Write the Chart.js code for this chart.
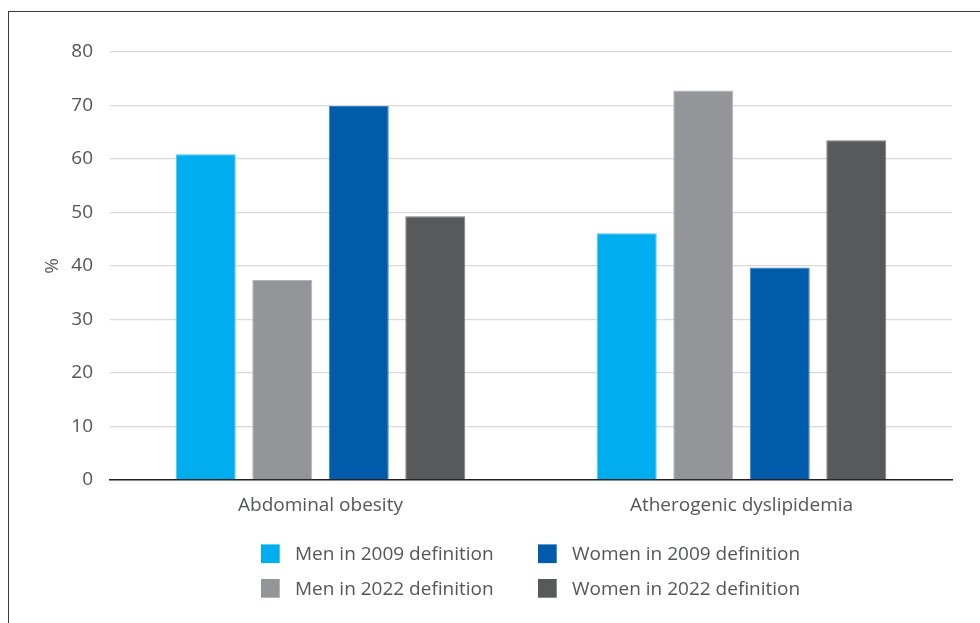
<!DOCTYPE html>
<html>
<head>
<meta charset="utf-8">
<script src="https://cdn.jsdelivr.net/npm/chart.js@4"></script>
<style>
  html, body { margin: 0; padding: 0; background: #fff; }
  #wrap { position: relative; width: 980px; height: 623px; overflow: hidden; }
  #frame { position: absolute; left: 7.5px; top: 10.5px; width: 1100px; height: 800px;
           border-left: 1.4px solid #3a3a3a; border-top: 1.4px solid #3a3a3a; }
  canvas { position: absolute; left: 0; top: 0; }
</style>
</head>
<body>
<div id="wrap">
  <div id="frame"></div>
  <canvas id="chart" width="980" height="623"></canvas>
</div>
<script>
// Prevalence (%) by condition, sex and definition year
const categories = ['Abdominal obesity', 'Atherogenic dyslipidemia'];
const men2009 = [60.9, 46.1];
const men2022 = [37.4, 72.8];
const women2009 = [69.9, 39.7];
const women2022 = [49.3, 63.5];
const seriesLabels = ['Men in 2009 definition', 'Men in 2022 definition',
                      'Women in 2009 definition', 'Women in 2022 definition'];
const yTicks = [0, 10, 20, 30, 40, 50, 60, 70, 80];

const TEXT = '#555658';
const FONT = '"Open Sans", sans-serif';

// Two-by-two legend under the plot: 2009 definitions on the first row, 2022 on the second
const gridLegend = {
  id: 'gridLegend',
  afterDraw(chart) {
    const ctx = chart.ctx;
    const area = chart.chartArea;
    const ds = chart.data.datasets;
    const order = [[0, 2], [1, 3]];
    const colX = [261, 538];
    const rowY = [area.bottom + 73.7, area.bottom + 108.3];
    ctx.save();
    ctx.font = '19px ' + FONT;
    ctx.textBaseline = 'middle';
    ctx.textAlign = 'left';
    order.forEach((row, r) => {
      row.forEach((idx, c) => {
        const x = colX[c], y = rowY[r];
        ctx.fillStyle = ds[idx].backgroundColor;
        ctx.fillRect(x, y - 9.3, 18.7, 18.7);
        ctx.fillStyle = TEXT;
        ctx.fillText(ds[idx].label, x + 34, y + 0.8);
      });
    });
    ctx.restore();
  }
};

new Chart(document.getElementById('chart'), {
  type: 'bar',
  data: {
    labels: categories,
    datasets: [
      { label: seriesLabels[0], data: men2009, backgroundColor: '#00aeef', borderColor: '#4cc3f2' },
      { label: seriesLabels[1], data: men2022, backgroundColor: '#939598', borderColor: '#b3b4b6' },
      { label: seriesLabels[2], data: women2009, backgroundColor: '#005baa', borderColor: '#3c7fc0' },
      { label: seriesLabels[3], data: women2022, backgroundColor: '#58595b', borderColor: '#7a7b7d' }
    ]
  },
  options: {
    responsive: false,
    animation: false,
    layout: { padding: { left: 0, right: 28, top: 52, bottom: 98 } },
    datasets: { bar: { categoryPercentage: 0.727, barPercentage: 0.784, borderWidth: 1 } },
    plugins: { legend: { display: false }, tooltip: { enabled: false } },
    scales: {
      x: {
        grid: { display: false, drawTicks: false },
        border: { color: '#231f20', width: 1.6 },
        ticks: { color: TEXT, font: { family: FONT, size: 19 }, padding: 14 },
        afterFit(s) { s.height = 45; }
      },
      y: {
        min: 0,
        max: 80,
        afterBuildTicks(s) { s.ticks = yTicks.map(v => ({ value: v })); },
        ticks: { color: TEXT, font: { family: FONT, size: 19 }, padding: 17 },
        grid: { color: '#d9d9d9', lineWidth: 1.3, drawTicks: false },
        border: { display: false },
        title: { display: true, text: '%', color: TEXT, font: { family: FONT, size: 19 },
                 padding: { top: 41, bottom: 0 } },
        afterFit(s) { s.width = 110; }
      }
    }
  },
  plugins: [gridLegend]
});
</script>
</body>
</html>
